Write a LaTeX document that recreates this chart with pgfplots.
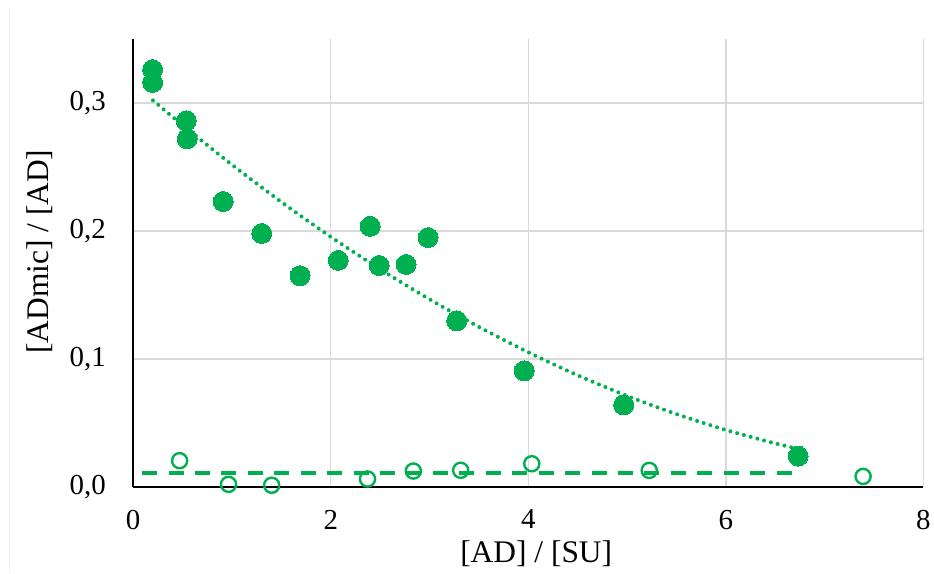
\documentclass[border=0pt]{standalone}
\usepackage{fontspec}
\setmainfont{Liberation Serif}
\usepackage{pgfplots}
\pgfplotsset{compat=1.18}
\definecolor{exgreen}{HTML}{00B050}
\definecolor{gridgray}{HTML}{D9D9D9}
\begin{document}
\begin{tikzpicture}
\path (-133.5pt,-86pt) rectangle (800.5pt,488pt);
\draw[gray!12, line width=1pt] (-123.5pt,-86pt) -- (-123.5pt,480pt);
\begin{axis}[
  scale only axis,
  width=792pt, height=449pt,
  xmin=0, xmax=8, ymin=0, ymax=0.35,
  xtick={0,2,4,6,8}, ytick={0,0.1,0.2,0.3},
  axis x line*=bottom, axis y line*=left,
  axis line style={black, line width=1.6pt, -},
  major tick length=0pt,
  grid=major,
  major grid style={gridgray, line width=1.4pt},
  clip=false,
  /pgf/number format/assume math mode=true,
  tick label style={font=\fontsize{29}{34}\selectfont, black},
  xticklabel style={yshift=-19.5pt},
  yticklabel style={xshift=-24pt, /pgf/number format/.cd, fixed, fixed zerofill, precision=1, use comma},
  label style={font=\fontsize{31.5}{36}\selectfont, black},
  xlabel={[AD] / [SU]},
  ylabel={[ADmic] / [AD]},
  xlabel style={at={(axis description cs:0.51,-0.149)}, anchor=center},
  ylabel style={at={(axis description cs:-0.118,0.525)}, anchor=center},
]
% dotted trendline
\addplot[exgreen, line width=4pt, dash pattern=on 0pt off 7pt, line cap=round, smooth] coordinates {
(0.2,0.3020) (0.5,0.2826) (1.0,0.2517) (1.5,0.2226) (2.0,0.1954) (2.5,0.1701)
(3.0,0.1466) (3.5,0.1250) (4.0,0.1052) (4.5,0.0872) (5.0,0.0711) (5.5,0.0569)
(6.0,0.0445) (6.5,0.0340) (6.73,0.0298)};
% dashed trendline
\addplot[exgreen, line width=3.5pt, dash pattern=on 15pt off 11.5pt] coordinates {
(0.09,0.0109) (6.77,0.0109)};
% filled circles
\addplot[only marks, mark=*, mark size=10pt, exgreen, mark options={fill=exgreen, draw=exgreen, line width=0pt}] coordinates {
(0.197,0.326) (0.197,0.316) (0.537,0.286) (0.547,0.272) (0.911,0.223)
(1.301,0.198) (1.689,0.165) (2.076,0.177) (2.399,0.2036) (2.490,0.173)
(2.763,0.1738) (2.985,0.1948) (3.275,0.1297) (3.958,0.0907) (4.965,0.064)
(6.732,0.0241)};
% open circles
\addplot[only marks, mark=o, mark size=7.6pt, exgreen, mark options={line width=2.4pt}] coordinates {
(0.47,0.0205) (0.965,0.002) (1.402,0.0013) (2.372,0.0062) (2.836,0.0124)
(3.315,0.013) (4.035,0.0181) (5.224,0.0129) (7.389,0.0082)};
\end{axis}
\end{tikzpicture}
\end{document}
